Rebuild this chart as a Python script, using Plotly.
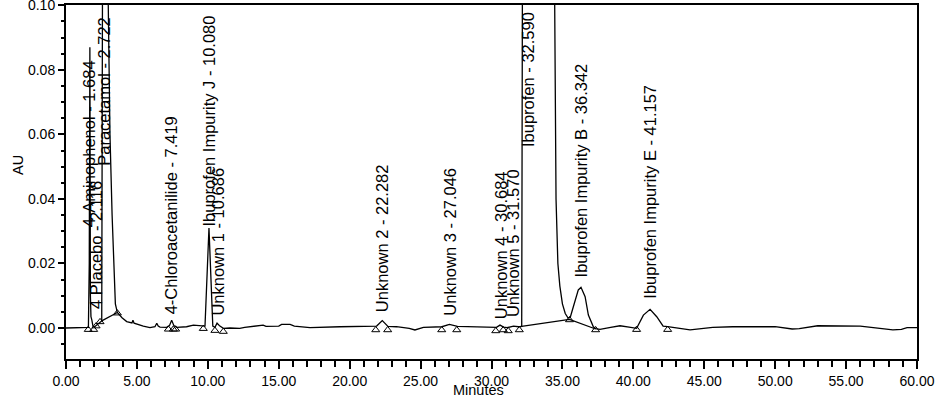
import plotly.graph_objects as go

# chromatogram trace (minutes, AU)
times = [0.0, 1.50, 1.58, 1.64, 1.684, 1.72, 1.76, 1.82, 1.90, 2.00, 2.12, 2.30, 2.45, 2.52,
         2.60, 2.722, 2.85, 2.98, 3.10, 3.25, 3.34, 3.40, 3.48, 3.62, 3.80, 3.95, 4.28, 4.65,
         4.72, 4.80, 5.45, 5.92, 6.27, 6.40, 6.50, 6.63, 7.10, 7.30, 7.45, 7.60, 7.80, 8.50,
         8.98, 9.68, 9.80, 10.08, 10.35, 10.50, 10.65, 10.85, 11.10, 11.56, 12.25, 12.60,
         13.70, 13.90, 14.10, 15.00, 15.20, 15.80, 16.10, 17.20, 19.30, 21.20, 21.90, 22.30,
         22.70, 23.30, 24.20, 24.60, 25.20, 26.50, 27.03, 27.60, 28.25, 29.90, 30.35, 30.60,
         30.85, 31.10, 31.55, 31.90, 32.13, 32.20, 32.59, 34.30, 34.45, 34.55, 34.68, 34.82,
         35.00, 35.20, 35.40, 35.55, 35.77, 36.12, 36.31, 36.60, 36.83, 37.18, 37.34, 37.65,
         38.40, 39.06, 39.70, 40.23, 40.71, 41.18, 41.65, 42.10, 42.42, 43.20, 44.00, 45.60,
         47.00, 50.00, 50.70, 51.20, 51.70, 52.50, 53.00, 56.00, 57.20, 58.30, 58.90, 59.30,
         60.00]
absorbance = [0.0, 0.0, 0.0002, 0.02, 0.087, 0.01, 0.0035, 0.0025, 0.0006, 0.0003, 0.0008,
              0.0014, 0.0019, 0.0022, 0.16, 0.6, 0.25, 0.1, 0.06, 0.035, 0.024, 0.012, 0.0075,
              0.0048, 0.0038, 0.0032, 0.002, 0.0016, 0.0024, 0.0015, 0.0006, 0.0001, 0.0004,
              0.0015, 0.0006, 0.0003, 0.0002, 0.0008, 0.0024, 0.0008, 0.0002, 0.0004, 0.0009,
              0.0007, 0.0006, 0.031, 0.0006, 0.0002, 0.0015, 0.0006, -0.0001, 0.0, -0.0001,
              0.0002, 0.0006, 0.0009, 0.0005, 0.0006, 0.0011, 0.0011, 0.0006, 0.0001, 0.0004,
              0.0007, 0.0006, 0.0023, 0.0005, 0.0004, -0.0001, -0.0006, 0.0002, 0.0004, 0.0011,
              0.0005, 0.0004, 0.0001, 0.0002, 0.0009, 0.0003, 0.0001, 0.0006, 0.0004, 0.0005,
              0.15, 1.2, 0.2, 0.1, 0.04, 0.02, 0.013, 0.0075, 0.0045, 0.0031, 0.0033, 0.0066,
              0.0118, 0.0126, 0.0097, 0.004, 0.0004, -0.0002, -0.0004, 0.0002, 0.0007, 0.0003,
              -0.0001, 0.004, 0.0058, 0.0035, 0.0006, 0.0004, -0.0001, -0.0006, 0.0002, 0.0004,
              0.0004, 0.0, -0.0003, -0.0002, 0.0005, 0.0007, 0.0006, 0.0, -0.0006, -0.0004,
              0.0001, 0.0001]

# integration baselines (start/end pairs)
base_t = [2.52, 3.62, None, 32.00, 35.50, 37.34]
base_v = [0.0022, 0.0048, None, 0.0004, 0.0027, -0.0003]

# peak start/end marks
mark_t = [1.57, 1.95, 2.12, 2.40, 3.62, 7.22, 7.57, 7.73, 9.68, 10.50, 11.09, 21.84, 22.68,
          26.49, 27.55, 30.30, 30.83, 31.18, 31.96, 35.50, 37.34, 40.23, 42.42]
mark_v = [-0.0005, -0.0005, 0.0006, 0.0019, 0.0046, -0.0004, -0.0004, -0.0004, -0.0002,
          -0.0008, -0.0011, -0.0006, -0.0006, -0.0006, -0.0006, -0.0009, -0.0006, -0.0009,
          -0.0006, 0.0025, -0.0006, -0.0005, -0.0005]

# peak names, retention times and label heights
peak_names = ["4-Aminophenol", "4 Placebo", "Paracetamol", "4-Chloroacetanilide",
              "Ibuprofen Impurity J", "Unknown 1", "Unknown 2", "Unknown 3", "Unknown 4",
              "Unknown 5", "Ibuprofen", "Ibuprofen Impurity B", "Ibuprofen Impurity E"]
peak_rt = [1.684, 2.116, 2.722, 7.419, 10.080, 10.686, 22.282, 27.046, 30.684, 31.570,
           32.590, 36.342, 41.157]
label_y = [0.031, 0.0056, 0.050, 0.004, 0.0313, 0.0034, 0.0046, 0.0034, 0.0025, 0.003,
           0.0557, 0.0155, 0.0087]

fig = go.Figure()
fig.add_trace(go.Scatter(x=times, y=absorbance, mode="lines",
                         line=dict(color="black", width=1.3), hoverinfo="skip"))
fig.add_trace(go.Scatter(x=base_t, y=base_v, mode="lines",
                         line=dict(color="black", width=1.3), hoverinfo="skip"))
fig.add_trace(go.Scatter(x=mark_t, y=mark_v, mode="markers",
                         marker=dict(symbol="triangle-up-open", size=7, color="black",
                                     line=dict(width=1)), hoverinfo="skip"))

for name, rt, ly in zip(peak_names, peak_rt, label_y):
    fig.add_annotation(x=rt, y=ly, text=f"{name} - {rt:.3f}", textangle=-90,
                       showarrow=False, xanchor="center", yanchor="bottom",
                       font=dict(size=16.5, color="black"), borderpad=0)

fig.add_annotation(xref="paper", yref="paper", x=0.4853, y=-0.087, text="Minutes",
                   showarrow=False, xanchor="center", yanchor="middle",
                   font=dict(size=14.5, color="black"))
fig.add_annotation(xref="paper", yref="paper", x=-0.0564, y=0.548, text="AU",
                   textangle=-90, showarrow=False, xanchor="center", yanchor="middle",
                   font=dict(size=14.5, color="black"))

axis_style = dict(showline=True, linewidth=2, linecolor="black", mirror=True,
                  showgrid=False, zeroline=False, ticks="outside", tickcolor="black",
                  tickwidth=1.5, tickformat=".2f", automargin=False,
                  ticklabeloverflow="allow", tickfont=dict(size=14, color="black"))

fig.update_xaxes(range=[0, 60], tick0=0, dtick=5, ticklen=8,
                 minor=dict(dtick=1, ticklen=6, ticks="outside", tickcolor="black",
                            tickwidth=1.5),
                 **axis_style)
fig.update_yaxes(range=[-0.0096, 0.1001], tick0=0, dtick=0.02, ticklen=6,
                 minor=dict(dtick=0.005, ticklen=3, ticks="outside", tickcolor="black",
                            tickwidth=1.5),
                 **axis_style)

fig.update_layout(
    width=940, height=404,
    margin=dict(l=66, r=23, t=5, b=45),
    showlegend=False,
    plot_bgcolor="white", paper_bgcolor="white",
    font=dict(family="Liberation Sans, Arial, sans-serif", color="black"),
)

# drop the page's default body margin so the figure sits at the window corner
fig.write_html("out.html", config={"displayModeBar": False},
               post_script="document.body.style.margin='0';")
